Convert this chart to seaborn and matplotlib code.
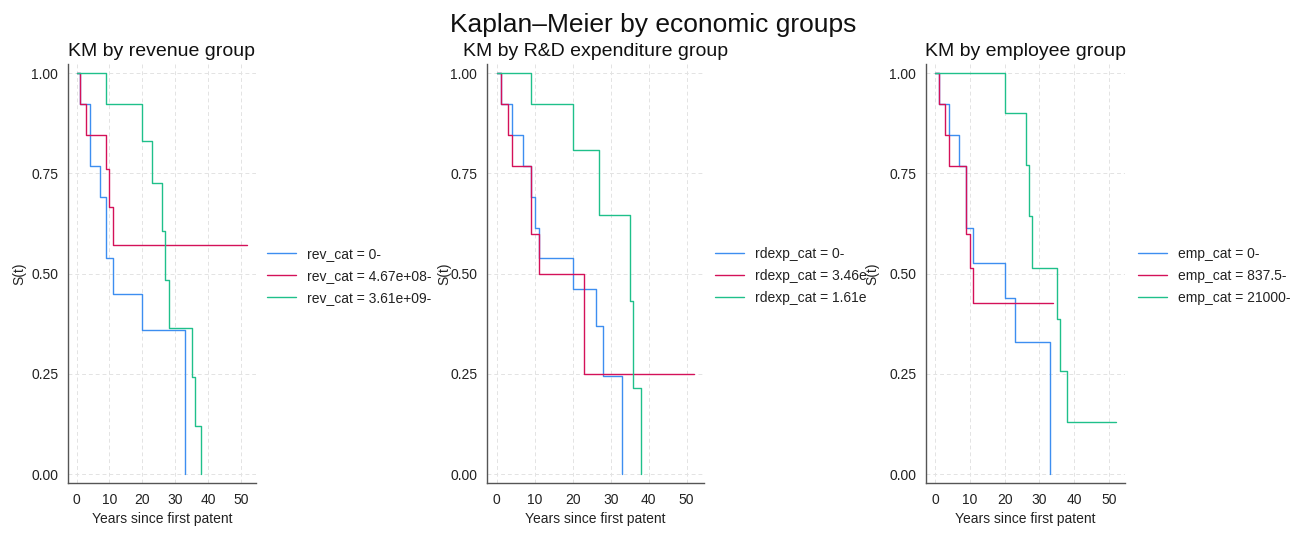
import matplotlib
matplotlib.use("Agg")
import matplotlib.pyplot as plt
import seaborn as sns
import pandas as pd
from matplotlib.transforms import Bbox, TransformedBbox

sns.set_theme(style="white")
plt.rcParams['font.family'] = ['Liberation Sans', 'DejaVu Sans']

# ---------------- data ----------------
# Panel 1: revenue group
rev_labels = ["rev_cat = 0-", "rev_cat = 4.67e+08-", "rev_cat = 3.61e+09-"]
rev_t0 = [0, 1, 4, 7, 9, 11, 20, 33]
rev_s0 = [1.0, 0.923, 0.769, 0.692, 0.538, 0.449, 0.359, 0.0]
rev_t1 = [0, 1, 3, 9, 10, 11, 52]
rev_s1 = [1.0, 0.923, 0.846, 0.762, 0.667, 0.571, 0.571]
rev_t2 = [0, 9, 20, 23, 26, 27, 28, 35, 36, 38]
rev_s2 = [1.0, 0.923, 0.831, 0.727, 0.606, 0.485, 0.364, 0.242, 0.121, 0.0]

# Panel 2: R&D expenditure group
rd_labels = ["rdexp_cat = 0-", "rdexp_cat = 3.46e+07-", "rdexp_cat = 1.61e+08-"]
rd_t0 = [0, 1, 4, 7, 9, 10, 11, 20, 26, 28, 33]
rd_s0 = [1.0, 0.923, 0.846, 0.769, 0.692, 0.615, 0.538, 0.462, 0.369, 0.246, 0.0]
rd_t1 = [0, 1, 3, 4, 9, 11, 23, 52]
rd_s1 = [1.0, 0.923, 0.846, 0.769, 0.598, 0.5, 0.25, 0.25]
rd_t2 = [0, 9, 20, 27, 35, 36, 38]
rd_s2 = [1.0, 0.923, 0.808, 0.646, 0.431, 0.215, 0.0]

# Panel 3: employee group
emp_labels = ["emp_cat = 0-", "emp_cat = 837.5-", "emp_cat = 21000-"]
emp_t0 = [0, 1, 4, 7, 9, 11, 20, 23, 33]
emp_s0 = [1.0, 0.923, 0.846, 0.769, 0.615, 0.527, 0.44, 0.33, 0.0]
emp_t1 = [0, 1, 3, 4, 9, 10, 11, 34]
emp_s1 = [1.0, 0.923, 0.846, 0.769, 0.598, 0.513, 0.427, 0.427]
emp_t2 = [0, 20, 26, 27, 28, 35, 36, 38, 52]
emp_s2 = [1.0, 0.9, 0.771, 0.643, 0.514, 0.386, 0.257, 0.129, 0.129]

titles = ["KM by revenue group", "KM by R&D expenditure group", "KM by employee group"]
suptitle = "Kaplan\u2013Meier by economic groups"
xticks = [0, 10, 20, 30, 40, 50]
yticks = [0.0, 0.25, 0.5, 0.75, 1.0]
ytick_labels = ["0.00", "0.25", "0.50", "0.75", "1.00"]
colors = ["#3d8ef0", "#d41159", "#1fc08a"]


def frame(labels, ts, ss):
    rows = []
    for lab, t, s in zip(labels, ts, ss):
        for ti, si in zip(t, s):
            rows.append({"time": ti, "surv": si, "group": lab})
    return pd.DataFrame(rows)


panels = [
    frame(rev_labels, [rev_t0, rev_t1, rev_t2], [rev_s0, rev_s1, rev_s2]),
    frame(rd_labels, [rd_t0, rd_t1, rd_t2], [rd_s0, rd_s1, rd_s2]),
    frame(emp_labels, [emp_t0, emp_t1, emp_t2], [emp_s0, emp_s1, emp_s2]),
]
label_sets = [rev_labels, rd_labels, emp_labels]

W, H = 1309, 536
fig = plt.figure(figsize=(W / 100, H / 100), dpi=100)
fig.patch.set_facecolor("white")

# pixel boxes: (left, right, top, bottom)
boxes = [(68, 256, 64, 483), (487, 704, 64, 483), (926, 1125, 64, 483)]
legend_x = [267, 715, 1138]
ylabel_x = [19, 444, 872]
clip_right = [440, 866, 1309]

for i, (df, labs) in enumerate(zip(panels, label_sets)):
    l, r, t, b = boxes[i]
    ax = fig.add_axes([l / W, (H - b) / H, (r - l) / W, (b - t) / H])
    sns.lineplot(data=df, x="time", y="surv", hue="group", hue_order=labs,
                 palette=colors, estimator=None, drawstyle="steps-post",
                 linewidth=1.0, ax=ax, sort=False)
    ax.set_xlim(-2.6, 54.6)
    ax.set_ylim(-0.022, 1.023)
    ax.set_xticks(xticks)
    ax.set_yticks(yticks)
    ax.set_yticklabels(ytick_labels)
    ax.tick_params(axis="both", which="major", direction="out", length=4,
                   width=0.9, color="#555555", labelsize=10, labelcolor="#222222", pad=3)
    ax.grid(True, linestyle=(0, (4, 3)), color="#e3e3e3", linewidth=0.7)
    for side in ["top", "right"]:
        ax.spines[side].set_visible(False)
    for side in ["left", "bottom"]:
        ax.spines[side].set_color("#555555")
        ax.spines[side].set_linewidth(1.0)
    ax.set_xlabel("Years since first patent", fontsize=10, color="#222222", labelpad=4)
    ax.set_ylabel("S(t)", fontsize=10, color="#222222", va="center")
    ax.yaxis.set_label_coords((ylabel_x[i] - l) / (r - l), 0.5)
    ax.set_title(titles[i], fontsize=14, color="#111111", pad=6, loc="center")
    sns.move_legend(ax, "center left",
                    bbox_to_anchor=(legend_x[i] / W, 1 - 276 / H),
                    bbox_transform=fig.transFigure, frameon=False, title=None,
                    fontsize=10, handlelength=2.1, handletextpad=0.8,
                    labelspacing=0.55, borderpad=0, borderaxespad=0)
    leg = ax.get_legend()
    clip = TransformedBbox(Bbox([[0, 0], [clip_right[i] / W, 1]]), fig.transFigure)
    for txt in leg.get_texts():
        txt.set_color("#222222")
        txt.set_clip_box(clip)
        txt.set_clip_on(True)
    for ln in leg.get_lines():
        ln.set_linewidth(1.0)

fig.text(653 / W, 1 - 32 / H, suptitle, fontsize=19, ha="center", va="baseline",
         color="#111111")

fig.savefig("out.png", dpi=100, facecolor="white")
